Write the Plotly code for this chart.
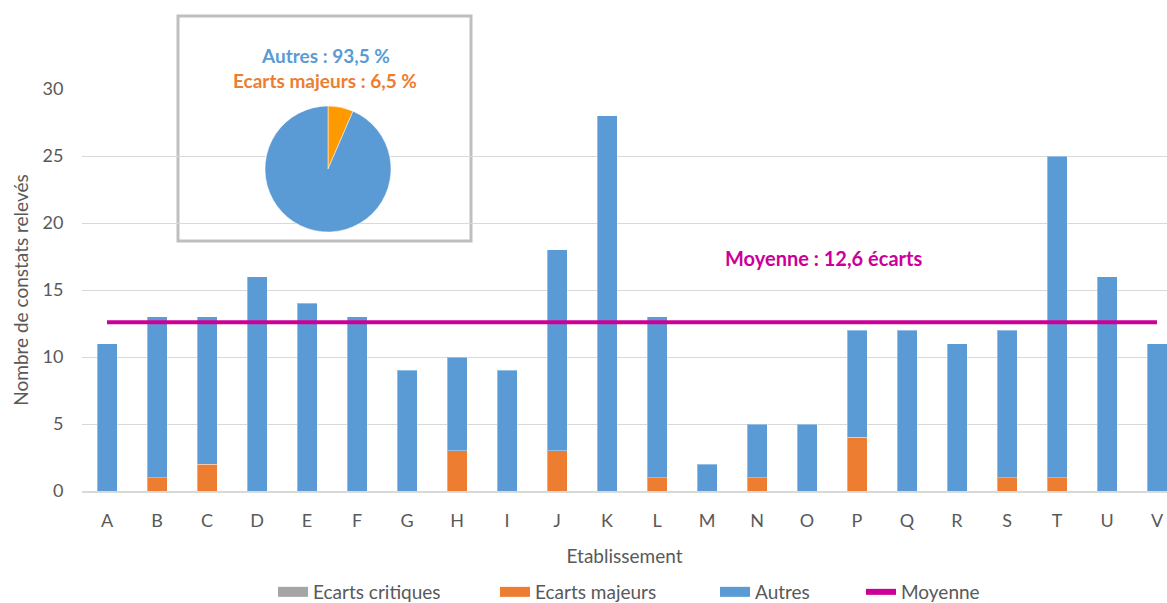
import plotly.graph_objects as go

# Établissements et nombre de constats relevés par catégorie
etablissements = ["A", "B", "C", "D", "E", "F", "G", "H", "I", "J", "K",
                  "L", "M", "N", "O", "P", "Q", "R", "S", "T", "U", "V"]
ecarts_critiques = [0] * 22
ecarts_majeurs = [0, 1, 2, 0, 0, 0, 0, 3, 0, 3, 0, 1, 0, 1, 0, 4, 0, 0, 1, 1, 0, 0]
totaux = [11, 13, 13, 16, 14, 13, 9, 10, 9, 18, 28, 13, 2, 5, 5, 12, 12, 11, 12, 25, 16, 11]
autres = [t - m - c for t, m, c in zip(totaux, ecarts_majeurs, ecarts_critiques)]
moyenne = 12.6

# Répartition globale (camembert)
pie_labels = ["Ecarts majeurs", "Autres"]
pie_values = [6.5, 93.5]

GREY = "#A5A5A5"
ORANGE = "#ED7D31"
BLUE = "#5B9BD5"
MAGENTA = "#CC0099"
TXT = "#595959"
FONT = "Lato"

W, H = 1167, 603
L, R, T, B = 82, 0, 89, 112
PW, PH = W - L - R, H - T - B


def px_x(x):
    return (x - L) / PW


def px_y(y):
    return (H - B - y) / PH


fig = go.Figure()
series = [("Ecarts critiques", ecarts_critiques, GREY, 11),
          ("Ecarts majeurs", ecarts_majeurs, ORANGE, 11),
          ("Autres", autres, BLUE, 11)]
for name, vals, col, _ in series:
    fig.add_trace(go.Bar(x=etablissements, y=vals, name=name, marker_color=col,
                         marker_line=dict(color="rgba(255,255,255,0.35)", width=1),
                         showlegend=False))
fig.add_trace(go.Scatter(x=etablissements, y=[moyenne] * len(etablissements),
                         name="Moyenne", mode="lines", showlegend=False,
                         line=dict(color=MAGENTA, width=4)))

# Legend entries: one small legend per entry, placed along the bottom
legend_entries = series + [("Moyenne", None, MAGENTA, 6)]
text_starts = [315, 537, 757, 903]
legend_layouts = {}
for i, ((name, _, col, lw), tx) in enumerate(zip(legend_entries, text_starts)):
    key = "legend" if i == 0 else f"legend{i + 1}"
    fig.add_trace(go.Scatter(x=[None], y=[None], name=name, mode="lines",
                             line=dict(color=col, width=lw), legend=key))
    legend_layouts[key] = dict(orientation="h", x=px_x(tx - 42), xanchor="left",
                               y=px_y(592), yanchor="middle",
                               bgcolor="rgba(0,0,0,0)",
                               font=dict(size=19, color=TXT), itemwidth=30)

# Encadré du camembert
cx, cy, rad = 328, 169, 63
fig.add_trace(go.Pie(labels=pie_labels, values=pie_values, sort=False,
                     direction="clockwise", rotation=0,
                     marker=dict(colors=["#FF9900", BLUE],
                                 line=dict(color="white", width=0.5)),
                     textinfo="none", hoverinfo="label+percent", showlegend=False,
                     domain=dict(x=[px_x(cx - rad), px_x(cx + rad)],
                                 y=[px_y(cy + rad), px_y(cy - rad)])))

fig.add_shape(type="rect", xref="paper", yref="paper",
              x0=px_x(178), x1=px_x(471), y0=px_y(241), y1=px_y(16),
              line=dict(color="#BFBFBF", width=3), fillcolor="white",
              layer="between")

fig.add_annotation(text="<b>Autres : 93,5 %</b>", xref="paper", yref="paper",
                   x=px_x(325), y=px_y(55), xanchor="center", yanchor="middle",
                   showarrow=False, font=dict(family=FONT, size=19, color=BLUE))
fig.add_annotation(text="<b>Ecarts majeurs : 6,5 %</b>", xref="paper", yref="paper",
                   x=px_x(325), y=px_y(80), xanchor="center", yanchor="middle",
                   showarrow=False, font=dict(family=FONT, size=19, color=ORANGE))
fig.add_annotation(text="<b>Moyenne : 12,6 écarts</b>", xref="paper", yref="paper",
                   x=px_x(823), y=px_y(258), xanchor="center", yanchor="middle",
                   showarrow=False, font=dict(family=FONT, size=20, color=MAGENTA))

fig.update_layout(
    width=W, height=H,
    margin=dict(l=L, r=R, t=T, b=B, autoexpand=False),
    paper_bgcolor="white", plot_bgcolor="white",
    barmode="stack", bargap=0.6,
    font=dict(family=FONT, size=18, color=TXT),
    xaxis=dict(range=[-0.5, -0.5 + PW / 50.0], showgrid=False,
               showline=True, linecolor="#D9D9D9", linewidth=2,
               ticks="outside", ticklen=12, tickcolor="rgba(255,255,255,0)",
               tickfont=dict(size=18, color=TXT),
               title=dict(text="Etablissement", font=dict(size=19, color=TXT),
                          standoff=20)),
    yaxis=dict(range=[0, 30], dtick=5, showgrid=True, gridcolor="#D9D9D9",
               gridwidth=1, zeroline=False, showline=False, ticks="outside",
               ticklen=14, tickcolor="rgba(255,255,255,0)",
               tickfont=dict(size=18, color=TXT),
               title=dict(text="Nombre de constats relevés",
                          font=dict(size=19, color=TXT), standoff=8)),
    **legend_layouts,
)

fig.write_html("out.html")
